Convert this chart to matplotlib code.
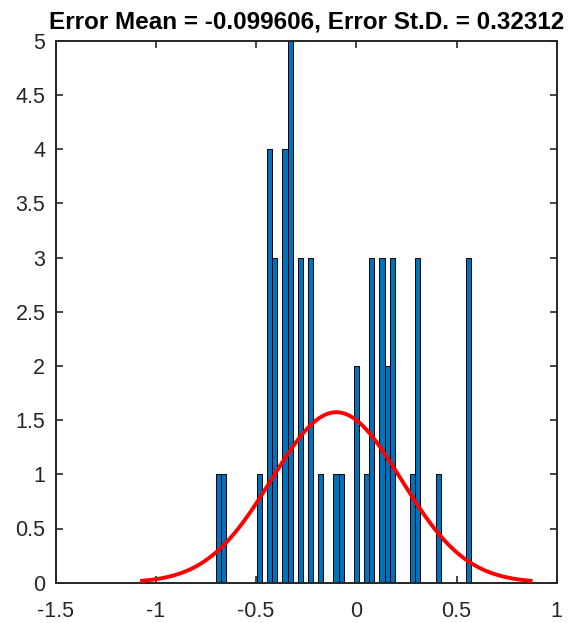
import matplotlib
matplotlib.use('Agg')
import matplotlib.pyplot as plt
import numpy as np

# histogram of prediction errors, 50 bins between min and max error
err_min = -0.700
err_max = 0.574
counts = [1, 1, 0, 0, 0, 0, 0, 0, 1, 0,
          4, 3, 0, 4, 5, 0, 3, 0, 3, 0,
          1, 0, 0, 1, 1, 0, 0, 2, 0, 1,
          3, 0, 3, 2, 3, 0, 0, 0, 1, 3,
          0, 0, 0, 1, 0, 0, 0, 0, 0, 3]
err_mean = -0.099606
err_std = 0.32312
n_samples = sum(counts)

xticks = [-1.5, -1, -0.5, 0, 0.5, 1]
xtick_labels = ['-1.5', '-1', '-0.5', '0', '0.5', '1']
yticks = [0, 0.5, 1, 1.5, 2, 2.5, 3, 3.5, 4, 4.5, 5]
ytick_labels = ['0', '0.5', '1', '1.5', '2', '2.5', '3', '3.5', '4', '4.5', '5']

plt.rcParams['font.family'] = ['Liberation Sans', 'DejaVu Sans']

fig = plt.figure(figsize=(5.76, 6.23), dpi=100)
ax = fig.add_axes([55.7 / 576, (623 - 582.7) / 623, 501 / 576, 542 / 623])

edges = np.linspace(err_min, err_max, len(counts) + 1)
bw = edges[1] - edges[0]
ax.bar(edges[:-1], counts, width=bw, align='edge', color='#0072BD',
       edgecolor='black', linewidth=0.7, zorder=2)

# fitted normal curve (scaled like histfit: n * bin width)
xs = np.linspace(err_mean - 3 * err_std, err_mean + 3 * err_std, 200)
pdf = np.exp(-0.5 * ((xs - err_mean) / err_std) ** 2) / (err_std * np.sqrt(2 * np.pi))
ax.plot(xs, pdf * n_samples * bw, color='#FF0000', linewidth=2.8, zorder=3)

ax.set_xlim(-1.5, 1)
ax.set_ylim(0, 5)
ax.set_xticks(xticks)
ax.set_xticklabels(xtick_labels)
ax.set_yticks(yticks)
ax.set_yticklabels(ytick_labels)

ax_col = '#262626'
for s in ax.spines.values():
    s.set_color(ax_col)
    s.set_linewidth(1.4)
ax.tick_params(axis='both', direction='in', length=5, width=1.2, color=ax_col,
               labelcolor=ax_col, labelsize=15.5, top=True, right=True)
ax.tick_params(axis='x', pad=13.5)
ax.tick_params(axis='y', pad=7.5)

ax.set_title(f'Error Mean = {err_mean}, Error St.D. = {err_std}',
             fontsize=17.5, fontweight='bold', color='black', pad=9)

plt.savefig('out.png', dpi=100)
